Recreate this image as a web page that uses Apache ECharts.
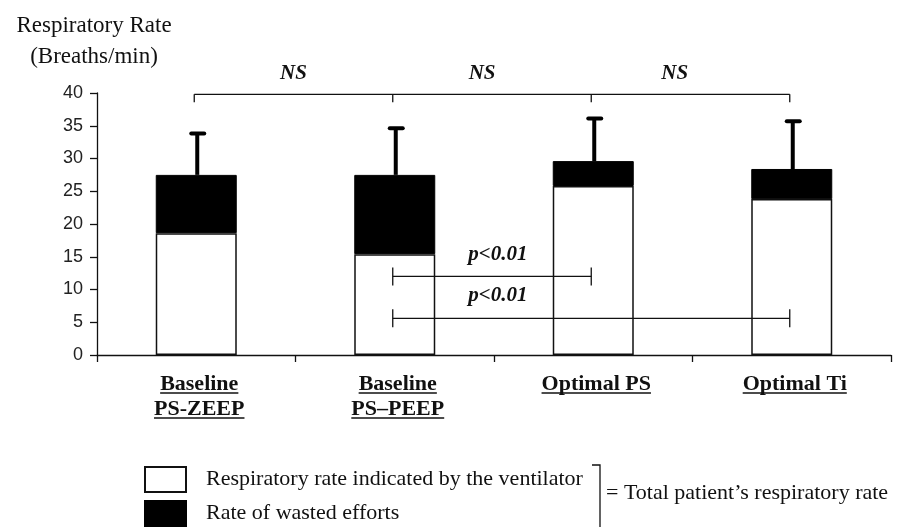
<!DOCTYPE html>
<html>
<head>
<meta charset="UTF-8">
<script src="https://cdn.jsdelivr.net/npm/echarts@6/dist/echarts.min.js"></script>
<style>
    html, body { margin: 0; padding: 0; background: #fff; }
    #chart { width: 901px; height: 527px; }
</style>
</head>
<body>
<div id="chart"></div>
<script type="text/javascript">
    // data
    var categories = ['Baseline\nPS-ZEEP', 'Baseline\nPS\u2013PEEP', 'Optimal PS', 'Optimal Ti'];
    var ventilatorRate = [18.6, 15.4, 25.8, 23.8];   // white part
    var wastedEfforts = [8.9, 12.1, 3.8, 4.6];       // black part
    var totalSd = [6.3, 7.1, 6.5, 7.3];              // error bar above total
    var yTicks = [0, 40, 5];                          // min, max, step

    // significance brackets
    var nsLevel = [39.8, 38.6];                       // line, tick end
    var nsLabels = ['NS', 'NS', 'NS'];
    var nsLabelX = [0.49, 1.44, 2.41];
    var nsLabelY = 43.0;
    var pFrom = [1, 1];
    var pTo = [2, 3];
    var pLevel = [12, 5.6];
    var pLabels = ['p<0.01', 'p<0.01'];
    var pLabelX = [1.52, 1.52];
    var pLabelY = [15.3, 9.0];

    var legendNames = ['Respiratory rate indicated by the ventilator', 'Rate of wasted efforts'];

    var serif = '"Liberation Serif", "Times New Roman", serif';
    var ink = '#111';

    var measureCtx = document.createElement('canvas').getContext('2d');
    var textWidth = function (txt, font) {
        measureCtx.font = font;
        return measureCtx.measureText(txt).width;
    };

    // position on category axis for fractional index
    var catX = function (api, x, y) {
        var i = Math.floor(x);
        var f = x - i;
        var a = api.coord([i, y]);
        var b = api.coord([i + 1, y]);
        return [a[0] + (b[0] - a[0]) * f, a[1]];
    };

    var lineStyle = {stroke: ink, lineWidth: 1.3, fill: null};

    var myChart = echarts.init(document.getElementById('chart'));

    var option = {
        backgroundColor: '#fff',
        animation: false,
        grid: {left: 97, right: 10, top: 93, bottom: 172},
        legend: {
            data: legendNames,
            orient: 'vertical',
            left: 144,
            top: 466,
            padding: 0,
            itemWidth: 41,
            itemHeight: 25,
            itemGap: 7,
            icon: 'rect',
            selectedMode: false,
            textStyle: {fontFamily: serif, fontSize: 22, color: ink, padding: [0, 0, 0, 15]}
        },
        xAxis: {
            type: 'category',
            data: categories,
            axisLine: {lineStyle: {color: ink, width: 1.3}},
            axisTick: {show: true, length: 7, interval: 0, lineStyle: {color: ink, width: 1.3}},
            axisLabel: {show: false}
        },
        yAxis: {
            type: 'value',
            min: yTicks[0],
            max: yTicks[1],
            interval: yTicks[2],
            name: 'Respiratory Rate\n(Breaths/min)',
            nameLocation: 'end',
            nameGap: 21,
            nameTextStyle: {fontFamily: serif, fontSize: 23, color: ink, align: 'center', lineHeight: 31, padding: [0, 6, 0, 0]},
            splitLine: {show: false},
            axisLine: {show: true, lineStyle: {color: ink, width: 1.3}},
            axisTick: {show: true, length: 7, lineStyle: {color: ink, width: 1.3}},
            axisLabel: {fontFamily: '"Liberation Sans", Arial, sans-serif', fontSize: 18, color: '#222', margin: 14}
        },
        graphic: [
            {
                type: 'polyline',
                shape: {points: [[592, 465], [600, 465], [600, 530]]},
                style: {stroke: ink, lineWidth: 1.3, fill: null}
            },
            {
                type: 'text',
                left: 606,
                top: 482,
                style: {text: '= Total patient\u2019s respiratory rate', font: '22px ' + serif, fill: ink}
            }
        ],
        series: [
            {
                name: legendNames[0],
                type: 'bar',
                stack: 'rate',
                barWidth: 81,
                data: ventilatorRate,
                itemStyle: {color: '#fff', borderColor: ink, borderWidth: 1.5}
            },
            {
                name: legendNames[1],
                type: 'bar',
                stack: 'rate',
                barWidth: 81,
                data: wastedEfforts,
                itemStyle: {color: '#000', borderColor: '#000', borderWidth: 1}
            },
            {
                // error bars (upper SD only)
                type: 'custom',
                z: 5,
                data: categories.map(function (c, i) {
                    var total = ventilatorRate[i] + wastedEfforts[i];
                    return [i, total, total + totalSd[i]];
                }),
                encode: {x: 0, y: [1, 2]},
                renderItem: function (params, api) {
                    var lo = api.coord([api.value(0), api.value(1)]);
                    var hi = api.coord([api.value(0), api.value(2)]);
                    return {
                        type: 'group',
                        children: [
                            {type: 'line', shape: {x1: lo[0] + 1, y1: lo[1], x2: hi[0] + 1, y2: hi[1]}, style: {stroke: '#000', lineWidth: 4}},
                            {type: 'line', shape: {x1: hi[0] - 5, y1: hi[1], x2: hi[0] + 8, y2: hi[1]}, style: {stroke: '#000', lineWidth: 4, lineCap: 'round'}}
                        ]
                    };
                }
            },
            {
                // NS bracket over all groups
                type: 'custom',
                z: 6,
                clip: false,
                data: [[0, nsLevel[0]]],
                renderItem: function (params, api) {
                    var kids = [];
                    var a = api.coord([0, nsLevel[0]]);
                    var b = api.coord([categories.length - 1, nsLevel[0]]);
                    kids.push({type: 'line', shape: {x1: a[0] - 2, y1: a[1], x2: b[0] - 2, y2: b[1]}, style: lineStyle});
                    for (var i = 0; i < categories.length; i++) {
                        var t = api.coord([i, nsLevel[0]]);
                        var e = api.coord([i, nsLevel[1]]);
                        kids.push({type: 'line', shape: {x1: t[0] - 2, y1: t[1], x2: e[0] - 2, y2: e[1]}, style: lineStyle});
                    }
                    for (var j = 0; j < nsLabels.length; j++) {
                        var p = catX(api, nsLabelX[j], nsLabelY);
                        kids.push({
                            type: 'text', x: p[0], y: p[1],
                            style: {text: nsLabels[j], font: 'italic bold 21px ' + serif, fill: ink, align: 'center', verticalAlign: 'middle'}
                        });
                    }
                    return {type: 'group', children: kids};
                }
            },
            {
                // p<0.01 brackets
                type: 'custom',
                z: 6,
                data: pLevel.map(function (v, i) { return [i, v]; }),
                renderItem: function (params, api) {
                    var k = params.dataIndex;
                    var a = api.coord([pFrom[k], pLevel[k]]);
                    var b = api.coord([pTo[k], pLevel[k]]);
                    var lp = catX(api, pLabelX[k], pLabelY[k]);
                    return {
                        type: 'group',
                        children: [
                            {type: 'line', shape: {x1: a[0] - 2, y1: a[1], x2: b[0] - 2, y2: b[1]}, style: lineStyle},
                            {type: 'line', shape: {x1: a[0] - 2, y1: a[1] - 9, x2: a[0] - 2, y2: a[1] + 9}, style: lineStyle},
                            {type: 'line', shape: {x1: b[0] - 2, y1: b[1] - 9, x2: b[0] - 2, y2: b[1] + 9}, style: lineStyle},
                            {type: 'text', x: lp[0], y: lp[1], style: {text: pLabels[k], font: 'italic bold 21px ' + serif, fill: ink, align: 'center', verticalAlign: 'middle'}}
                        ]
                    };
                }
            },
            {
                // underlined category labels
                type: 'custom',
                z: 6,
                clip: false,
                data: categories.map(function (c, i) { return [i, 0]; }),
                renderItem: function (params, api) {
                    var i = params.dataIndex;
                    var pt = api.coord([i, 0]);
                    var font = 'bold 22px ' + serif;
                    var lines = categories[i].split('\n');
                    var kids = [];
                    lines.forEach(function (txt, j) {
                        var cy = pt[1] + 29 + j * 25;
                        var cx = pt[0] + 3;
                        var w = textWidth(txt, font);
                        kids.push({type: 'text', x: cx, y: cy, style: {text: txt, font: font, fill: ink, align: 'center', verticalAlign: 'middle'}});
                        kids.push({type: 'line', shape: {x1: cx - w / 2, y1: cy + 9, x2: cx + w / 2, y2: cy + 9}, style: {stroke: ink, lineWidth: 1.3}});
                    });
                    return {type: 'group', children: kids};
                }
            }
        ]
    };

    myChart.setOption(option);
</script>
</body>
</html>
